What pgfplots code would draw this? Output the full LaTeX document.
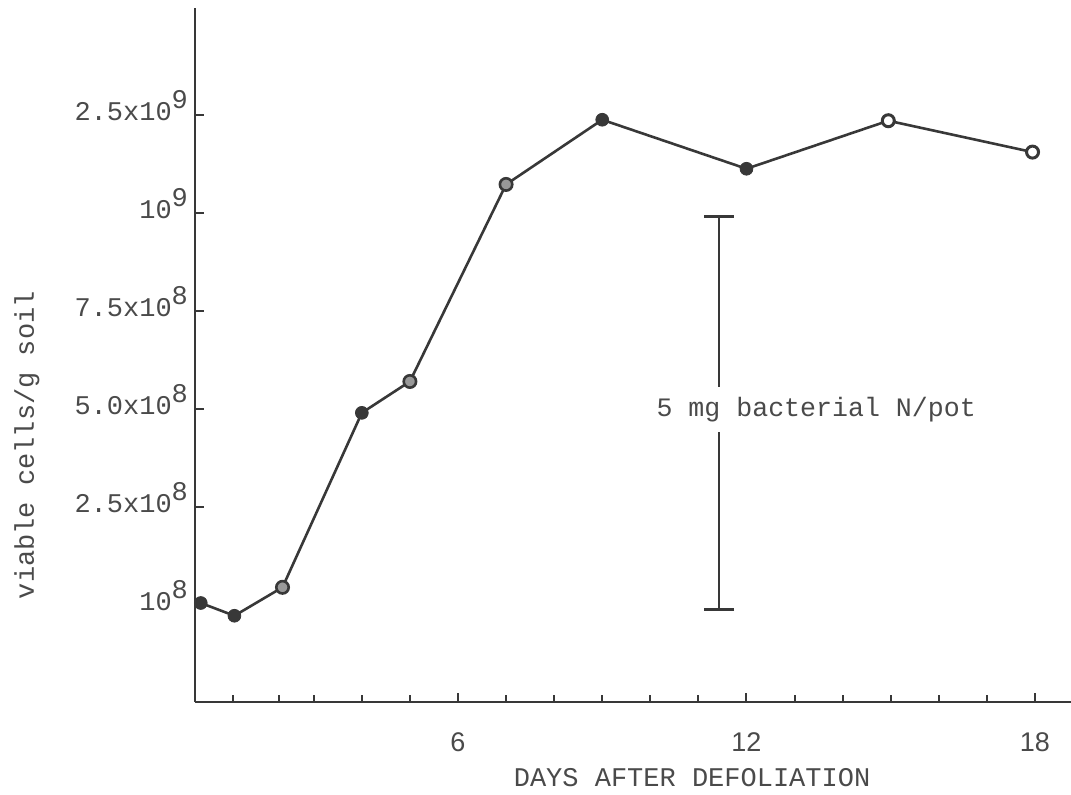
\documentclass[border=0pt]{standalone}
\usepackage{fontspec}
\usepackage{pgfplots}
\pgfplotsset{compat=1.18}
\newfontfamily\tw{Liberation Mono}
\newfontfamily\hv{Liberation Sans}
\definecolor{ink}{HTML}{383838}
\definecolor{txt}{HTML}{4A4A4A}
\newcommand{\sx}[1]{\raisebox{0.45em}{#1}}

\begin{document}
\begin{tikzpicture}
\useasboundingbox (0,0) rectangle (535.5pt,397pt);
\begin{axis}[
  at={(97.5pt,46pt)}, anchor=south west,
  scale only axis, width=438pt, height=347pt,
  xmin=0.53, xmax=18.75, ymin=-0.99, ymax=6.09,
  axis x line*=bottom, axis y line*=left,
  axis line style={ink, line width=1.4pt, -},
  xtick={6,12,18}, xticklabels={6,12,18},
  minor xtick={1.33,2.27,3,4,5,7,8,9,10,11,13,14,15,16,17},
  ytick={0,1,2,3,4,5},
  yticklabels={10\sx{8}, 2.5x10\sx{8}, 5.0x10\sx{8}, 7.5x10\sx{8}, 10\sx{9}, 2.5x10\sx{9}},
  tick align=inside,
  major tick length=4.5pt, minor tick length=3.5pt,
  tick style={ink, line width=1pt},
  yticklabel style={font=\tw\fontsize{13.5}{16}\selectfont, text=txt, text height=0.6em, text depth=0pt},
  xticklabel style={font=\hv\fontsize{13.5}{16}\selectfont, text=txt, yshift=-12pt},
  xlabel={DAYS AFTER DEFOLIATION},
  xlabel style={at={(axis description cs:0.5674,0)}, anchor=center, yshift=-38pt, font=\tw\fontsize{13.5}{16}\selectfont, text=txt},
  ylabel={viable cells/g soil},
  ylabel style={at={(axis description cs:-0.1918,0.370)}, anchor=center, font=\tw\fontsize{13.5}{16}\selectfont, text=txt},
  clip=false,
]
% scale bar: 5 mg bacterial N/pot
\addplot[ink, line width=1pt, mark=none,
  error bars/.cd, y dir=both, y explicit,
  error bar style={ink, line width=1pt},
  error mark options={rotate=90, mark size=7.5pt, line width=1.4pt, ink}]
  coordinates {(11.43,1.955) +- (0,2.005)};
\node[fill=white, inner xsep=1pt, inner ysep=5pt, font=\tw\fontsize{13.3}{16}\selectfont, text=txt]
  at (axis cs:13.45,1.99) {5 mg bacterial N/pot};

% data line
\addplot[ink, line width=1.3pt, mark=none] coordinates {
  (0.65,0.02) (1.35,-0.11) (2.35,0.18) (4,1.96) (5,2.28)
  (7,4.29) (9,4.95) (12,4.45) (14.95,4.94) (17.95,4.62)
};
% filled markers
\addplot[only marks, mark=*, mark size=3.2pt, mark options={fill=ink, draw=ink}] coordinates {
  (0.65,0.02) (1.35,-0.11) (4,1.96) (9,4.95) (12,4.45)
};
% grey-centred markers
\addplot[only marks, mark=*, mark size=3.1pt, mark options={fill=black!40, draw=ink, line width=1.3pt}] coordinates {
  (2.35,0.18) (5,2.28) (7,4.29)
};
% open markers
\addplot[only marks, mark=*, mark size=3pt, mark options={fill=white, draw=ink, line width=1.5pt}] coordinates {
  (14.95,4.94) (17.95,4.62)
};
\end{axis}
\end{tikzpicture}
\end{document}
